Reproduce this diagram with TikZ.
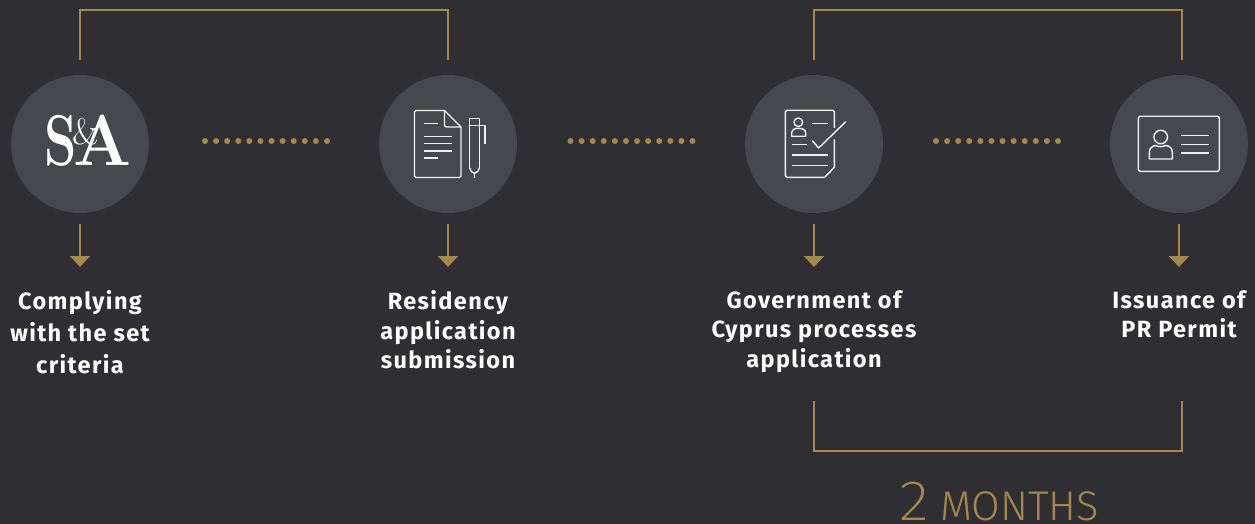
\documentclass[tikz,border=0pt]{standalone}
\usepackage{fontspec}
\setmainfont{Fira Sans}
\newfontfamily\labelf[LetterSpace=5.9]{Fira Sans}
\newfontfamily\lightf{Fira Sans Light}
\newfontfamily\thinf{Fira Sans ExtraLight}
\newfontfamily\logof{Latin Modern Roman}
\usetikzlibrary{arrows.meta}
\definecolor{bgc}{HTML}{2E2E33}
\definecolor{disc}{HTML}{46484D}
\definecolor{gold}{HTML}{A5884E}
\definecolor{icon}{HTML}{F0F0F0}
\tikzset{
  x=1pt,y=-1pt,
  disc/.style={circle,fill=disc,draw=none,minimum size=138pt,inner sep=0pt},
  bracket/.style={draw=gold,line width=2pt},
  downarrow/.style={draw=gold,line width=2pt,-{Triangle[width=20pt,length=11pt,fill=gold]}},
  dotrow/.style={draw=gold,line width=6pt,line cap=round,dash pattern=on 0pt off 11.09pt},
  label/.style={text=white,font=\labelf\bfseries\fontsize{23.5}{29.3}\selectfont,align=center,anchor=north,inner sep=0pt},
  ic/.style={draw=icon,line width=1.4pt,line join=round},
  logo/.style={text=white,inner sep=0pt,anchor=base}
}
\begin{document}
\begin{tikzpicture}
\useasboundingbox[fill=bgc] (0,0) rectangle (1255,524);
% discs
\node[disc] (c1) at (80,144) {};
\node[disc] (c2) at (448,144) {};
\node[disc] (c3) at (814,144) {};
\node[disc] (c4) at (1179,144) {};
% top brackets
\coordinate (b1a) at (80,60); \coordinate (b1b) at (448,60);
\coordinate (b2a) at (814,60); \coordinate (b2b) at (1182,60);
\coordinate (b3a) at (814,401); \coordinate (b3b) at (1182,401);
\draw[bracket] (b1a) -- (80,10) -- (448,10) -- (b1b);
\draw[bracket] (b2a) -- (814,10) -- (1182,10) -- (b2b);
\draw[bracket] (b3a) -- (814,451) -- (1182,451) -- (b3b);
% dots
\coordinate (d1a) at (205,141); \coordinate (d1b) at (327.5,141);
\coordinate (d2a) at (570.5,141); \coordinate (d2b) at (693,141);
\coordinate (d3a) at (936,141); \coordinate (d3b) at (1058.5,141);
\draw[dotrow] (d1a) -- (d1b);
\draw[dotrow] (d2a) -- (d2b);
\draw[dotrow] (d3a) -- (d3b);
% arrows
\foreach \n/\x in {1/80,2/448,3/814,4/1179}{
  \coordinate (a\n s) at (\x,224);
  \coordinate (a\n e) at (\x,267);
  \draw[downarrow] (a\n s) -- (a\n e);
}
% labels
\node[label] (t1) at (80,290) {Complying\\[2.7pt]with the set\\[2.7pt]criteria};
\node[label] (t2) at (448,290.5) {Residency\\application\\submission};
\node[label] (t3) at (814,290.5) {Government of\\Cyprus processes\\application};
\node[label] (t4) at (1179,290.5) {Issuance of\\PR Permit};
% logo
\node[logo,font=\logof\fontsize{72}{72}\selectfont\bfseries,xscale=.72] (ls) at (60.5,165.5) {S};
\node[logo,font=\logof\fontsize{72}{72}\selectfont\bfseries,xscale=.95] (la) at (103,165.5) {A};
\node[logo,font=\logof\fontsize{37}{37}\selectfont] (lamp) at (86,145) {\&};
% icon 2
\draw[ic,rounded corners=1.5pt] (444.5,110.5) -- (414.5,110.5) -- (414.5,177.5) -- (461,177.5) -- (461,127);
\draw[ic] (444.5,110.5) -- (461,127);
\draw[ic,rounded corners=2pt] (444.5,110.5) -- (444.5,127) -- (461,127);
\foreach \y in {123.7,158}{\draw[ic] (424,\y) -- (438,\y);}
\foreach \y in {136.3,143.7,151}{\draw[ic] (424,\y) -- (451.7,\y);}
\draw[ic] (469.7,168) -- (469.7,118.7) -- (479.3,118.7) -- (479.3,168);
\draw[ic] (469.7,168) .. controls (470,171) and (472,172.5) .. (474.5,173.3) .. controls (477,172.5) and (479,171) .. (479.3,168);
\draw[ic] (474.5,173.3) -- (474.5,177.7);
\draw[ic] (469.7,125.3) -- (485,125.3) -- (485,144);
% icon 3
\draw[ic,rounded corners=1.5pt] (834.3,128) -- (834.3,110.3) -- (785.3,110.3) -- (785.3,177.3) -- (824.7,177.3);
\draw[ic] (834.3,139.3) -- (834.3,167.3) -- (824.7,177.3);
\draw[ic] (798.3,122.3) circle (4.3);
\draw[ic] (791.7,136.3) -- (791.7,133) .. controls (791.7,129.5) and (795,128.3) .. (798.3,128.3) .. controls (802,128.3) and (805.7,129.5) .. (805.7,133) -- (805.7,136.3) -- cycle;
\draw[ic] (812.3,123.3) -- (828.3,123.3);
\draw[ic] (791.7,144.7) -- (807.3,144.7);
\draw[ic] (791.7,155) -- (828.3,155);
\draw[ic] (791.7,165.7) -- (828.3,165.7);
\draw[ic] (812.3,140.7) -- (818.7,148) -- (845.7,121.7);
% icon 4
\draw[ic,rounded corners=2pt] (1138.3,116.3) rectangle (1219.3,171.3);
\draw[ic] (1160.7,137) circle (6.8);
\draw[ic] (1149.3,159) -- (1149.3,152) .. controls (1149.3,148) and (1153,145.5) .. (1156,145.5) .. controls (1158,147) and (1163,147) .. (1165.5,145.5) .. controls (1169,145.5) and (1172.3,148) .. (1172.3,152) -- (1172.3,159) -- cycle;
\foreach \y in {135.7,144.3,153}{\draw[ic] (1181.3,\y) -- (1209,\y);}
% 2 months
\node[inner sep=0pt,anchor=base west,text=gold,font=\thinf\fontsize{57}{57}\selectfont,xscale=1.1] (two) at (899,520.7) {2};
\node[inner sep=0pt,anchor=base west,text=gold,font=\lightf\fontsize{41.5}{41.5}\selectfont] (months) at (940,520.7) {MONTHS};
\end{tikzpicture}
\end{document}
